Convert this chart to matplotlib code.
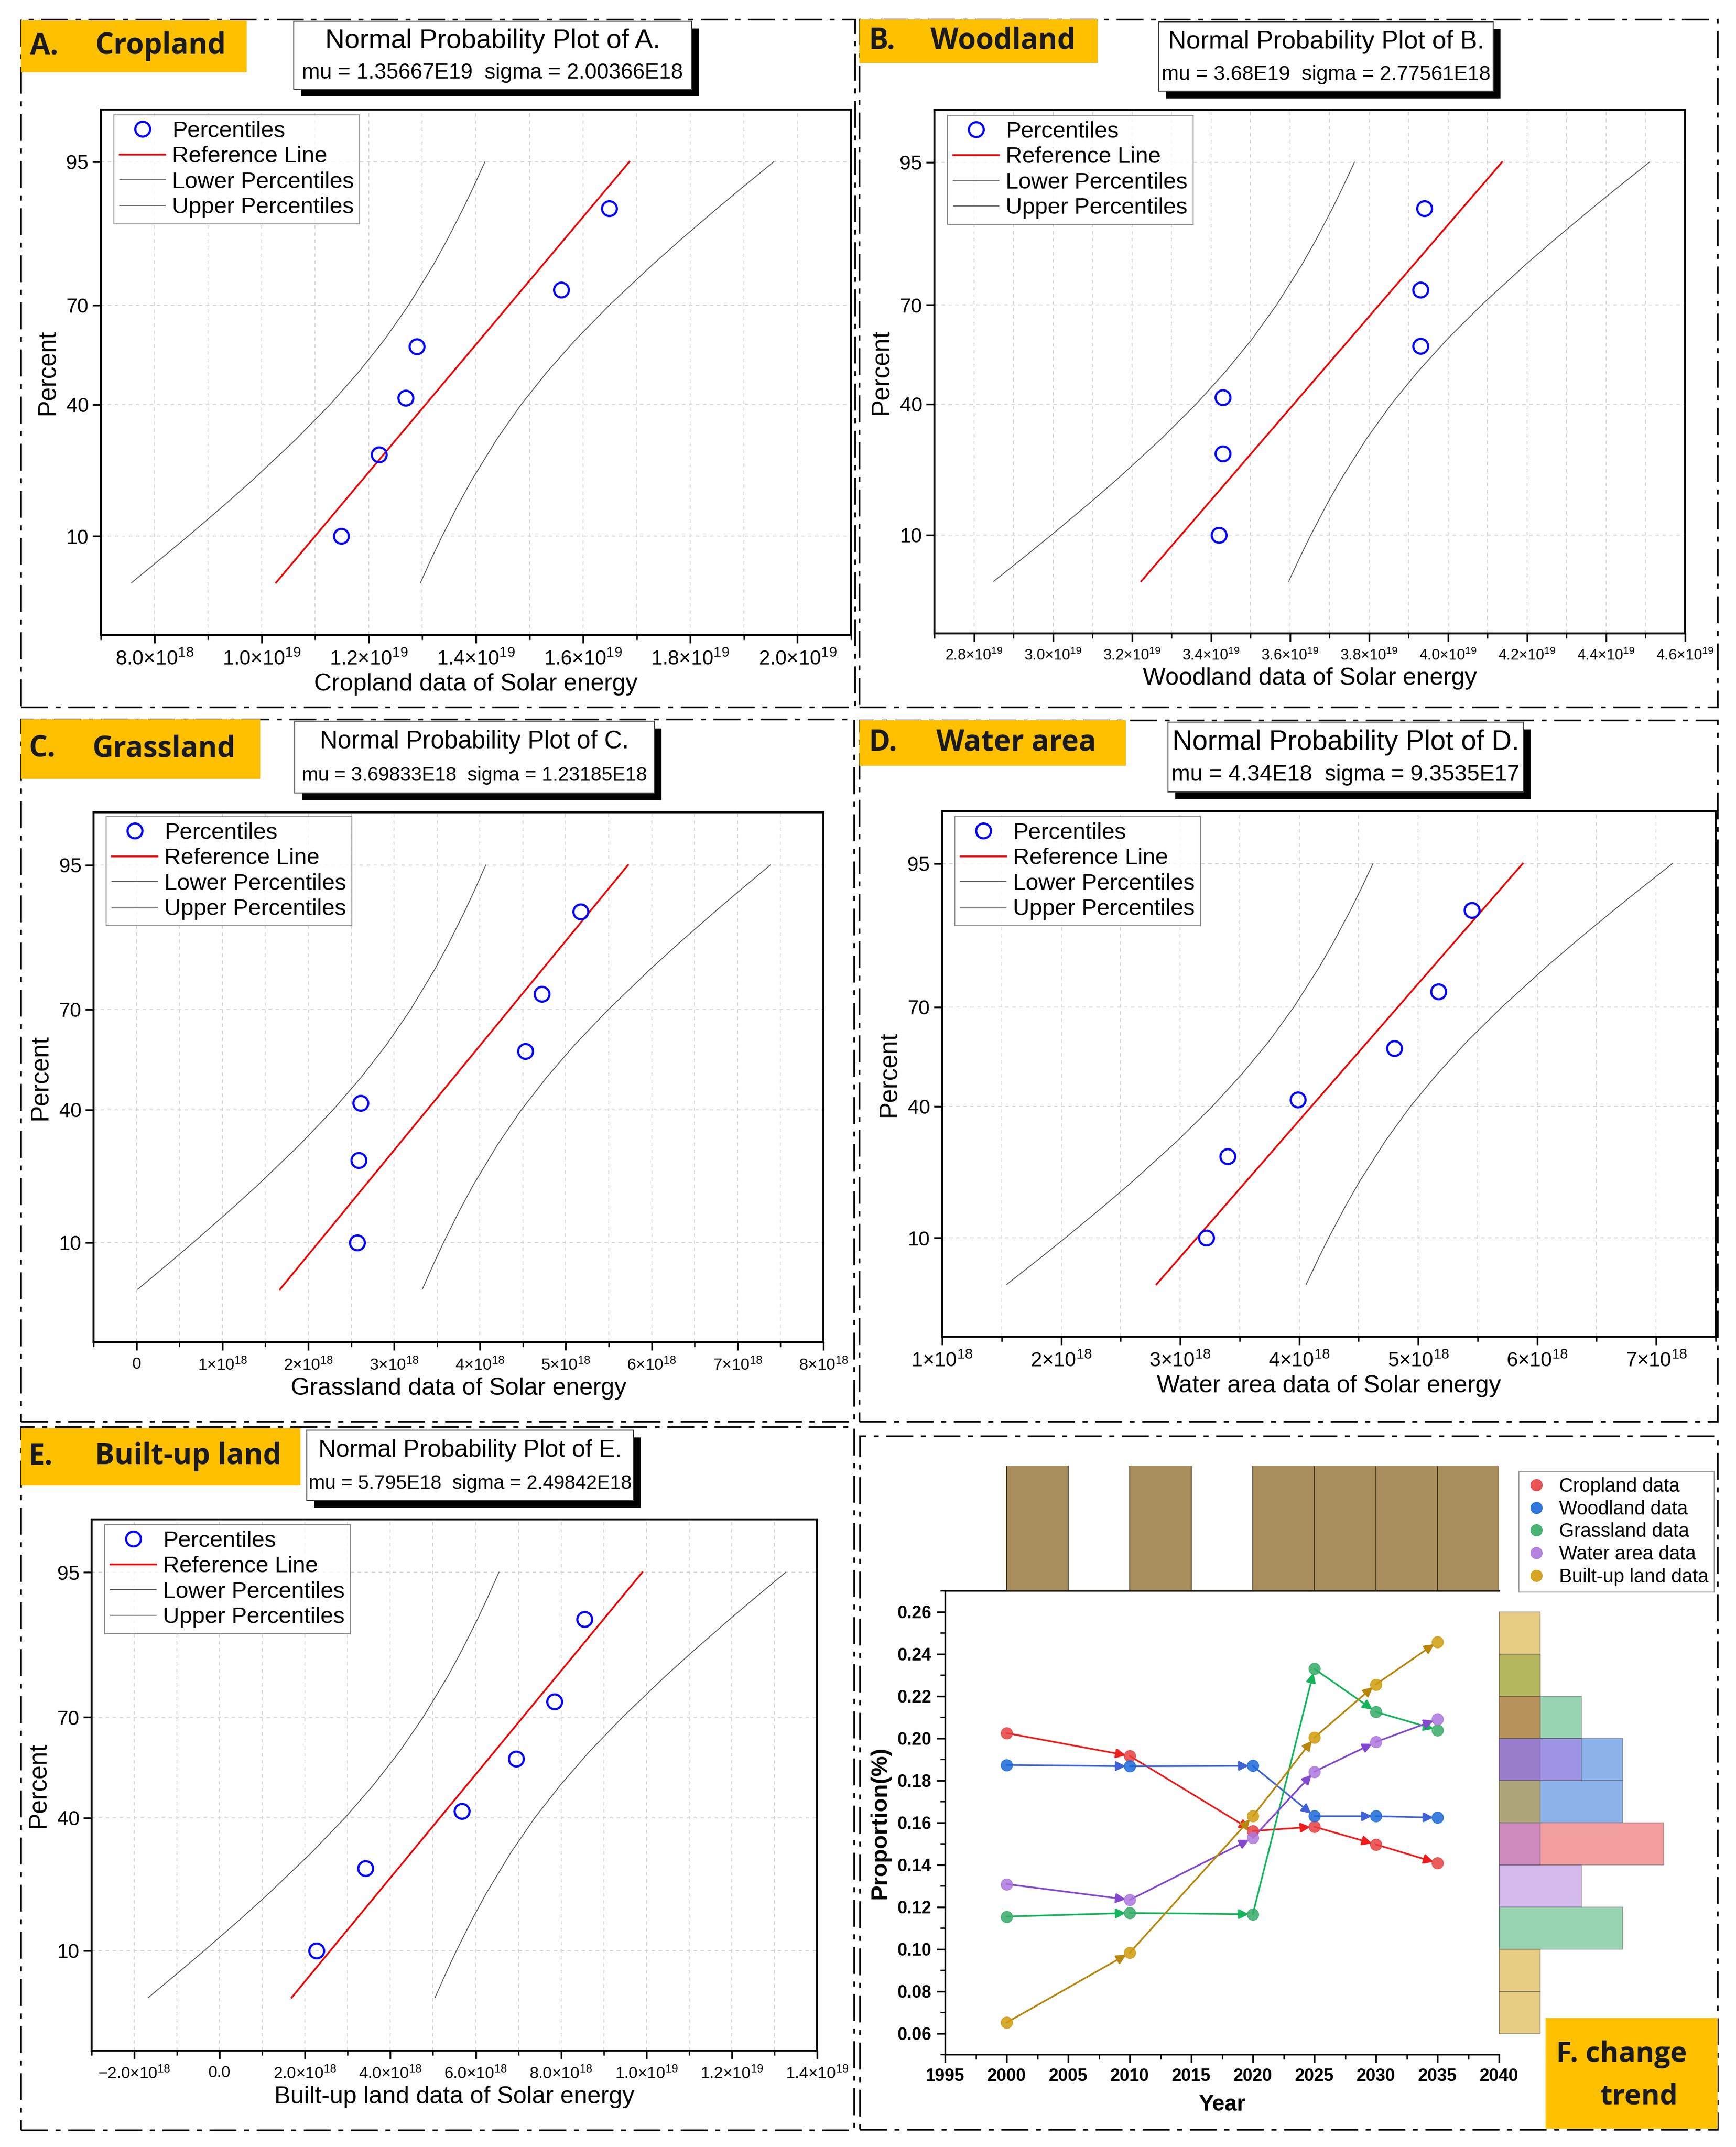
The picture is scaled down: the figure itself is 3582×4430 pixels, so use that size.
import matplotlib
matplotlib.use('Agg')
import matplotlib.pyplot as plt
import numpy as np
from statistics import NormalDist
from matplotlib.patches import Rectangle
from matplotlib.lines import Line2D
from matplotlib.ticker import MultipleLocator, NullLocator, FormatStrFormatter

W, H = 3582, 4430
plt.rcParams['font.family'] = ['Liberation Sans', 'DejaVu Sans']
plt.rcParams['mathtext.fontset'] = 'custom'
plt.rcParams['mathtext.rm'] = 'Liberation Sans'
plt.rcParams['mathtext.it'] = 'Liberation Sans:italic'
plt.rcParams['mathtext.bf'] = 'Liberation Sans:bold'
BOLDFAM = ['Open Sans', 'Liberation Sans', 'DejaVu Sans']

# ---------------- data: normal probability plots ----------------
pct = [10, 26, 42, 58, 74, 90]          # plotting positions, n = 6
crop_x = [1.149e19, 1.219e19, 1.269e19, 1.290e19, 1.559e19, 1.649e19]
wood_x = [3.42e19, 3.43e19, 3.43e19, 3.93e19, 3.93e19, 3.94e19]
grass_x = [2.57e18, 2.59e18, 2.61e18, 4.53e18, 4.72e18, 5.17e18]
water_x = [3.22e18, 3.40e18, 3.99e18, 4.80e18, 5.17e18, 5.45e18]
built_x = [2.27e18, 3.42e18, 5.68e18, 6.95e18, 7.85e18, 8.55e18]

mus = [1.35667e19, 3.68e19, 3.69833e18, 4.34e18, 5.795e18]
sigmas = [2.00366e18, 2.77561e18, 1.23185e18, 9.3535e17, 2.49842e18]
mu_txt = ['1.35667E19', '3.68E19', '3.69833E18', '4.34E18', '5.795E18']
sigma_txt = ['2.00366E18', '2.77561E18', '1.23185E18', '9.3535E17', '2.49842E18']

# confidence band half width (in sigma units) read along the percent axis
band_pct = [5, 7.5, 10, 15, 20, 30, 40, 50, 60, 70, 80, 85, 90, 92.5, 95]
band_hw = [1.345, 1.251, 1.183, 1.087, 1.020, 0.935, 0.890, 0.877,
           0.890, 0.935, 1.020, 1.087, 1.183, 1.251, 1.345]

letters = ['A.', 'B.', 'C.', 'D.', 'E.']
names = ['Cropland', 'Woodland', 'Grassland', 'Water area', 'Built-up land']

ticks_a = [8e18, 1.0e19, 1.2e19, 1.4e19, 1.6e19, 1.8e19, 2.0e19]
labels_a = [r'$8.0{\times}10^{18}$'] + [r'$%s{\times}10^{19}$' % s for s in ['1.0', '1.2', '1.4', '1.6', '1.8', '2.0']]
ticks_b = [2.8e19, 3.0e19, 3.2e19, 3.4e19, 3.6e19, 3.8e19, 4.0e19, 4.2e19, 4.4e19, 4.6e19]
labels_b = [r'$%s{\times}10^{19}$' % s for s in ['2.8', '3.0', '3.2', '3.4', '3.6', '3.8', '4.0', '4.2', '4.4', '4.6']]
ticks_c = [0, 1e18, 2e18, 3e18, 4e18, 5e18, 6e18, 7e18, 8e18]
labels_c = ['0'] + [r'$%d{\times}10^{18}$' % i for i in range(1, 9)]
ticks_d = [1e18, 2e18, 3e18, 4e18, 5e18, 6e18, 7e18]
labels_d = [r'$%d{\times}10^{18}$' % i for i in range(1, 8)]
ticks_e = [-2e18, 0, 2e18, 4e18, 6e18, 8e18, 1.0e19, 1.2e19, 1.4e19]
labels_e = [r'$-2.0{\times}10^{18}$', '0.0', r'$2.0{\times}10^{18}$', r'$4.0{\times}10^{18}$',
            r'$6.0{\times}10^{18}$', r'$8.0{\times}10^{18}$', r'$1.0{\times}10^{19}$',
            r'$1.2{\times}10^{19}$', r'$1.4{\times}10^{19}$']

# ---------------- data: change trend ----------------
years = [2000, 2010, 2020, 2025, 2030, 2035]
crop_p = [0.2024, 0.1916, 0.1560, 0.1580, 0.1496, 0.1408]
wood_p = [0.1873, 0.1867, 0.1869, 0.1630, 0.1630, 0.1623]
grass_p = [0.1154, 0.1171, 0.1165, 0.2329, 0.2125, 0.2039]
water_p = [0.1308, 0.1233, 0.1527, 0.1841, 0.1982, 0.2090]
built_p = [0.0651, 0.0982, 0.1630, 0.2003, 0.2255, 0.2457]
trend_labels = ['Cropland data', 'Woodland data', 'Grassland data', 'Water area data', 'Built-up land data']

GOLD = '#FFC000'

_nd = NormalDist()


def p2z(p):
    p = np.clip(np.asarray(p, float) / 100.0, 1e-9, 1 - 1e-9)
    return np.vectorize(_nd.inv_cdf, otypes=[float])(p)


def z2p(z):
    return 100.0 * np.vectorize(_nd.cdf, otypes=[float])(np.asarray(z, float))


def rect(l, t, r, b):
    return [l / W, 1 - b / H, (r - l) / W, (b - t) / H]


fig = plt.figure(figsize=(W / 100, H / 100), dpi=100)


def border(l, t, r, b):
    fig.patches.append(Rectangle((l / W, 1 - b / H), (r - l) / W, (b - t) / H, transform=fig.transFigure,
                                 fill=False, ec='black', lw=2.5, ls=(0, (16, 4.5, 3, 4.5)), zorder=1))


def gold_box(l, t, r, b, letter, name, xl, xn):
    fig.patches.append(Rectangle((l / W, 1 - b / H), (r - l) / W, (b - t) / H, transform=fig.transFigure,
                                 fc=GOLD, ec='none', zorder=2))
    yc = 1 - (t + b) / 2 / H
    for txt, x in [(letter, xl), (name, xn)]:
        fig.text(x / W, yc, txt, fontsize=43, fontweight='bold', family=BOLDFAM,
                 color='#1a1a1a', va='center', ha='left', zorder=3)


def title_box(l, t, r, b, line1, line2, fs1, fs2):
    off = 15
    fig.patches.append(Rectangle(((l + off) / W, 1 - (b + off) / H), (r - l) / W, (b - t) / H,
                                 transform=fig.transFigure, fc='black', ec='none', zorder=2))
    fig.patches.append(Rectangle((l / W, 1 - b / H), (r - l) / W, (b - t) / H, transform=fig.transFigure,
                                 fc='white', ec='#444444', lw=1.5, zorder=2))
    xc = (l + r) / 2 / W
    fig.text(xc, 1 - (t + 0.29 * (b - t)) / H, line1, fontsize=fs1, ha='center', va='center', zorder=3)
    fig.text(xc, 1 - (t + 0.76 * (b - t)) / H, line2, fontsize=fs2, ha='center', va='center', zorder=3)


def prob_panel(i, ax_px, xs, xlim, ticks, labels, minor, tick_fs, legend_px):
    ax = fig.add_axes(rect(*ax_px))
    ax.set_yscale('function', functions=(p2z, z2p))
    ax.set_ylim(2.0, 98.0)
    ax.set_xlim(*xlim)
    ax.set_yticks([10, 40, 70, 95], labels=['10', '40', '70', '95'])
    ax.yaxis.set_minor_locator(NullLocator())
    ax.set_xticks(ticks, labels=labels)
    ax.xaxis.set_minor_locator(MultipleLocator(minor))
    ax.tick_params(axis='y', which='major', labelsize=30, direction='out', length=12, width=2.5, pad=6)
    ax.tick_params(axis='x', which='major', labelsize=tick_fs, direction='out', length=12, width=2.5, pad=10)
    ax.tick_params(axis='x', which='minor', direction='out', length=7, width=2)
    for s in ax.spines.values():
        s.set_linewidth(3)
    ax.set_axisbelow(True)
    ax.grid(True, axis='y', which='major', ls=(0, (4, 4)), color='#d4d4d4', lw=1.3)
    ax.grid(True, axis='x', which='both', ls=(0, (4, 4)), color='#d4d4d4', lw=1.3)

    mu, sg = mus[i], sigmas[i]
    ref = mu + sg * p2z(band_pct)
    hw = np.array(band_hw) * sg
    ax.plot(ref - hw, band_pct, color='#555555', lw=1.3)
    ax.plot(ref + hw, band_pct, color='#555555', lw=1.3)
    ax.plot([ref[0], ref[-1]], [band_pct[0], band_pct[-1]], color='#EE0000', lw=2.6)
    ax.plot(xs, pct, ls='none', marker='o', ms=22, mfc='none', mec='#0000FF', mew=3.2)

    ax.set_xlabel(names[i] + ' data of Solar energy', fontsize=36, labelpad=6)
    ax.set_ylabel('Percent', fontsize=37, labelpad=10)

    handles = [Line2D([], [], ls='none', marker='o', ms=22, mfc='none', mec='#0000FF', mew=3.2),
               Line2D([], [], color='#EE0000', lw=2.6),
               Line2D([], [], color='#555555', lw=1.3),
               Line2D([], [], color='#555555', lw=1.3)]
    lg = fig.legend(handles, ['Percentiles', 'Reference Line', 'Lower Percentiles', 'Upper Percentiles'],
                    loc='upper left', bbox_to_anchor=(legend_px[0] / W, 1 - legend_px[1] / H),
                    fontsize=34, frameon=True, fancybox=False, borderaxespad=0, borderpad=0.25,
                    labelspacing=0.18, handlelength=2.0, handletextpad=0.3)
    lg.get_frame().set_edgecolor('#777777')
    lg.get_frame().set_linewidth(1.5)
    return ax


# panel borders
border(43, 40, 1764, 1459)
border(1773, 40, 3544, 1459)
border(43, 1484, 1762, 2933)
border(1773, 1486, 3544, 2933)
border(43, 2944, 1762, 4395)
border(1774, 2963, 3544, 4394)

panel_ax = [(208, 226, 1756, 1310), (1928, 227, 3477, 1307), (193, 1676, 1699, 2769),
            (1944, 1674, 3540, 2758), (189, 3135, 1686, 4231)]
panel_xlim = [(7.0e18, 2.1e19), (2.7e19, 4.6e19), (-0.5e18, 8.0e18), (1.0e18, 7.5e18), (-3.0e18, 1.4e19)]
panel_minor = [1e18, 1e18, 0.5e18, 0.5e18, 1e18]
panel_tick_fs = [30, 22, 24, 30, 24]
panel_legend = [(235, 237), (1955, 238), (219, 1685), (1970, 1685), (216, 3146)]
panel_title = [(606, 44, 1427, 184), (2391, 45, 3081, 188), (608, 1488, 1350, 1636),
               (2410, 1490, 3143, 1634), (633, 2951, 1307, 3096)]
panel_title_fs = [(40, 32), (37.5, 30.5), (36.5, 29), (41, 33.5), (36, 29)]
panel_gold = [(43, 42, 509, 149), (1773, 40, 2265, 130), (43, 1484, 537, 1607),
              (1773, 1486, 2323, 1580), (43, 2947, 620, 3065)]
panel_gold_x = [(62, 196), (1793, 1920), (59, 191), (1793, 1932), (59, 196)]
all_x = [crop_x, wood_x, grass_x, water_x, built_x]
all_ticks = [(ticks_a, labels_a), (ticks_b, labels_b), (ticks_c, labels_c), (ticks_d, labels_d), (ticks_e, labels_e)]

for i in range(5):
    prob_panel(i, panel_ax[i], all_x[i], panel_xlim[i], all_ticks[i][0], all_ticks[i][1],
               panel_minor[i], panel_tick_fs[i], panel_legend[i])
    title_box(*panel_title[i], 'Normal Probability Plot of %s' % letters[i],
              'mu = %s  sigma = %s' % (mu_txt[i], sigma_txt[i]), *panel_title_fs[i])
    gold_box(*panel_gold[i], letters[i], names[i], *panel_gold_x[i])

# ---------------- panel F ----------------
mk_colors = ['#E84040', '#1A69D9', '#35AB67', '#AD77DD', '#D19B0B']
ln_colors = ['#EE1C1C', '#3F62D6', '#14B45A', '#8348CF', '#B8860B']
series = [crop_p, wood_p, grass_p, water_p, built_p]

axF = fig.add_axes(rect(1950, 3282, 3093, 4239))
axF.set_xlim(1995, 2040)
axF.set_ylim(0.05, 0.27)
axF.set_xticks(range(1995, 2041, 5))
axF.set_yticks(np.arange(0.06, 0.261, 0.02))
axF.yaxis.set_major_formatter(FormatStrFormatter('%.2f'))
axF.xaxis.set_minor_locator(MultipleLocator(2.5))
axF.yaxis.set_minor_locator(MultipleLocator(0.01))
axF.tick_params(which='major', direction='out', length=12, width=2.5, pad=8)
axF.tick_params(which='minor', direction='out', length=7, width=2)
for lab in axF.get_xticklabels() + axF.get_yticklabels():
    lab.set_fontweight('bold')
    lab.set_fontsize(26)
axF.spines['right'].set_visible(False)
for s in ['left', 'bottom', 'top']:
    axF.spines[s].set_linewidth(2.5)
axF.set_xlabel('Year', fontsize=33, fontweight='bold', labelpad=14)
axF.set_ylabel('Proportion(%)', fontsize=34, fontweight='bold', labelpad=10)

for vals, mc, lc in zip(series, mk_colors, ln_colors):
    for k in range(len(years) - 1):
        axF.annotate('', xy=(years[k + 1], vals[k + 1]), xytext=(years[k], vals[k]),
                     arrowprops=dict(arrowstyle='-|>', color=lc, lw=2.5, shrinkA=0, shrinkB=6,
                                     mutation_scale=30), zorder=2)
    axF.plot(years, vals, ls='none', marker='o', ms=17, color=mc, alpha=0.85, zorder=3)

# top marginal histogram of years
axT = fig.add_axes(rect(1950, 3024, 3093, 3282))
axT.hist([y for _ in series for y in years], bins=range(2000, 2041, 5), color='#A88E5C',
         edgecolor='#4a3d20', lw=1.5)
axT.set_xlim(1995, 2040)
axT.set_ylim(0, 5)
axT.axis('off')

# right marginal histogram of proportions
axR = fig.add_axes(rect(3093, 3282, 3543, 4239))
for vals, mc in zip(series, mk_colors):
    axR.hist(vals, bins=np.arange(0.06, 0.2601, 0.02), orientation='horizontal', color=mc, alpha=0.5,
             edgecolor='#555555', lw=1.2)
axR.set_ylim(0.05, 0.27)
axR.set_xlim(0, 450 / 85)
axR.axis('off')

hF = [Line2D([], [], ls='none', marker='o', ms=17, color=c, alpha=0.9) for c in mk_colors]
lgF = fig.legend(hF, trend_labels, loc='upper left', bbox_to_anchor=(3134 / W, 1 - 3036 / H),
                 fontsize=28.5, frameon=True, fancybox=False, borderaxespad=0, borderpad=0.3,
                 labelspacing=0.22, handlelength=1.2, handletextpad=0.6)
lgF.get_frame().set_edgecolor('#888888')
lgF.get_frame().set_linewidth(1.5)

fig.patches.append(Rectangle((3189 / W, 1 - 4392 / H), (3544 - 3189) / W, (4392 - 4164) / H,
                             transform=fig.transFigure, fc=GOLD, ec='none', zorder=2))
fig.text(3211 / W, 1 - 4239 / H, 'F. change', fontsize=42, fontweight='bold',
         family=BOLDFAM, color='#1a1a1a', va='center', ha='left', zorder=3)
fig.text(3302 / W, 1 - 4327 / H, 'trend', fontsize=42, fontweight='bold',
         family=BOLDFAM, color='#1a1a1a', va='center', ha='left', zorder=3)

fig.savefig('out.png', dpi=100, facecolor='white')
